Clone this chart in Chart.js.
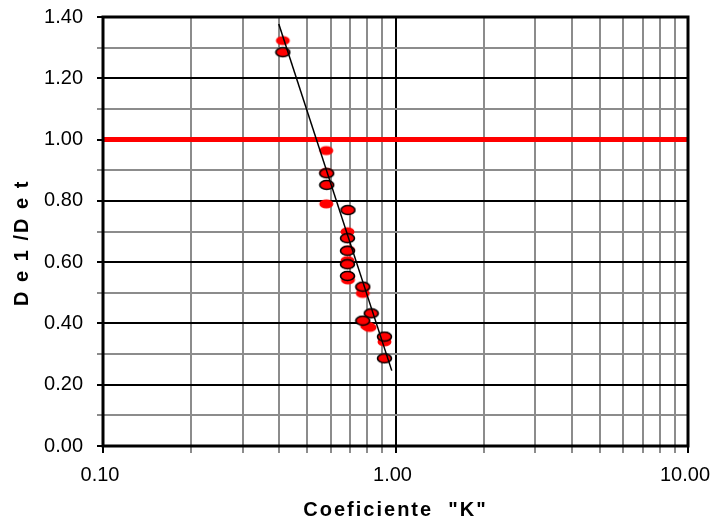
<!DOCTYPE html>
<html>
<head>
<meta charset="utf-8">
<script src="https://cdn.jsdelivr.net/npm/chart.js@4/dist/chart.umd.min.js"></script>
<style>
  html, body { margin: 0; padding: 0; background: #fff; }
  #wrap { width: 711px; height: 525px; }
</style>
</head>
<body>
<div id="wrap"><canvas id="kChart" width="711" height="525"></canvas></div>
<script>
// measured points: red dots and ringed dots
const redK = [0.412, 0.580, 0.580, 0.580, 0.685, 0.688, 0.685, 0.688, 0.688, 0.773, 0.773, 0.800, 0.815, 0.917, 0.917]
const redRatio = [1.323, 0.964, 0.893, 0.790, 0.699, 0.640, 0.605, 0.553, 0.542, 0.515, 0.498, 0.392, 0.387, 0.352, 0.340]
const ringK = [0.412, 0.582, 0.582, 0.688, 0.685, 0.685, 0.685, 0.685, 0.773, 0.826, 0.773, 0.917, 0.917]
const ringRatio = [1.285, 0.890, 0.852, 0.770, 0.678, 0.637, 0.593, 0.555, 0.520, 0.433, 0.409, 0.357, 0.286]

// fitted trend and the 1.00 reference line
const fitK = [0.399, 0.971]
const fitRatio = [1.377, 0.246]
const limitK = [0.1, 10]
const limitRatio = [1, 1]

// tick labels
const xTicks = [0.1, 0.2, 0.3, 0.4, 0.5, 0.6, 0.7, 0.8, 0.9, 1, 2, 3, 4, 5, 6, 7, 8, 9, 10]
const xMajor = [0.1, 1, 10]
const xLabels = ['0.10', '1.00', '10.00']
const yLabels = ['0.00', '0.20', '0.40', '0.60', '0.80', '1.00', '1.20', '1.40']

const pts = (xs, ys) => xs.map((x, i) => ({ x, y: ys[i] }))
const isMajorX = v => xMajor.some(m => Math.abs(m - v) < 1e-9)

const grey = '#8c8c8c'
const font = "'Liberation Sans', Arial, sans-serif"

function ellipse(fill, stroke) {
  const c = document.createElement('canvas')
  c.width = 17
  c.height = 12
  const g = c.getContext('2d')
  g.beginPath()
  g.ellipse(8.5, 6, 7, 4.5, 0, 0, Math.PI * 2)
  g.fillStyle = fill
  g.fill()
  if (stroke) {
    g.lineWidth = 1.6
    g.strokeStyle = stroke
    g.stroke()
  }
  return c
}

const redDot = ellipse('#ff0000')
const ringDot = ellipse('#ff0000', '#000')

// axis titles are drawn letter-spaced
const spacedTitles = {
  id: 'spacedTitles',
  afterLayout(chart) {
    Object.values(chart.scales).forEach(s => {
      if (s._spaced) return
      const draw = s.drawTitle
      s.drawTitle = function () {
        this.ctx.save()
        this.ctx.letterSpacing = '2px'
        draw.call(this)
        this.ctx.restore()
      }
      s._spaced = true
    })
  }
}

const frame = {
  id: 'frame',
  afterDatasetsDraw(chart) {
    const { ctx, chartArea: a } = chart
    ctx.save()
    ctx.lineWidth = 3
    ctx.strokeStyle = '#000'
    ctx.strokeRect(a.left, a.top, a.right - a.left, a.bottom - a.top)
    ctx.restore()
  }
}

new Chart(document.getElementById('kChart'), {
  type: 'scatter',
  data: {
    datasets: [
      {
        label: 'Tendencia',
        type: 'line',
        data: pts(fitK, fitRatio),
        borderColor: '#000',
        borderWidth: 1.5,
        pointRadius: 0,
        order: 0,
      },
      {
        label: 'Ringed',
        data: pts(ringK, ringRatio),
        pointStyle: ringDot,
        order: 1,
      },
      {
        label: 'Red',
        data: pts(redK, redRatio),
        pointStyle: redDot,
        order: 2,
      },
      {
        label: 'Limite',
        type: 'line',
        data: pts(limitK, limitRatio),
        borderColor: '#ff0000',
        borderWidth: 5,
        pointRadius: 0,
        order: 3,
      },
    ]
  },
  options: {
    responsive: false,
    animation: false,
    layout: { padding: { top: 17, right: 23, left: 0, bottom: 0 } },
    plugins: {
      legend: { display: false },
      tooltip: { enabled: false },
    },
    scales: {
      x: {
        type: 'logarithmic',
        min: 0.1,
        max: 10,
        afterBuildTicks: s => { s.ticks = xTicks.map(v => ({ value: v })) },
        afterFit: s => {
          s.height = 79
          s.paddingLeft = 0
          s.paddingRight = 0
        },
        border: { display: false },
        grid: {
          color: c => isMajorX(c.tick.value) ? '#000' : grey,
          lineWidth: 2,
          tickLength: 7,
        },
        ticks: {
          autoSkip: false,
          maxRotation: 0,
          padding: 10,
          labelOffset: -3,
          color: '#000',
          font: { family: font, size: 20 },
          callback: v => {
            const i = xMajor.findIndex(m => Math.abs(m - v) < 1e-9)
            return i < 0 ? '' : xLabels[i]
          },
        },
        title: {
          display: true,
          text: 'Coeficiente  "K"',
          color: '#000',
          padding: { top: 0, bottom: 3 },
          font: { family: font, size: 20, weight: 'bold' },
        },
      },
      y: {
        min: 0,
        max: 1.4,
        afterFit: s => {
          s.width = 103
          s.paddingTop = 0
          s.paddingBottom = 0
        },
        border: { display: false },
        grid: {
          color: c => c.index % 2 === 0 ? '#000' : grey,
          lineWidth: 2,
          tickLength: 6,
        },
        ticks: {
          stepSize: 0.1,
          padding: 14,
          color: '#000',
          font: { family: font, size: 20 },
          callback: (v, i) => i % 2 === 0 ? yLabels[i / 2] : '',
        },
        title: {
          display: true,
          text: 'D e 1 /D e t   ',
          color: '#000',
          padding: { top: 10, bottom: 0 },
          font: { family: font, size: 20, weight: 'bold' },
        },
      }
    }
  },
  plugins: [spacedTitles, frame]
})
</script>
</body>
</html>
